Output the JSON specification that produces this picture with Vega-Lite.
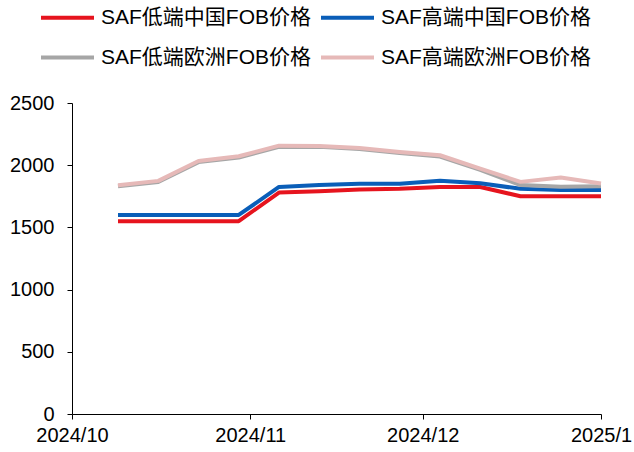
{
  "$schema": "https://vega.github.io/schema/vega-lite/v6.json",
  "width": 529,
  "height": 311,
  "autosize": {"type": "none"},
  "padding": {"left": 72, "top": 103, "right": 33, "bottom": 38},
  "background": "white",
  "config": {"view": {"stroke": null}, "font": "Liberation Sans"},
  "data": {
    "values": [
      {"date": "2024-10-09", "series": "SAF低端中国FOB价格", "value": 1550},
      {"date": "2024-10-16", "series": "SAF低端中国FOB价格", "value": 1550},
      {"date": "2024-10-23", "series": "SAF低端中国FOB价格", "value": 1550},
      {"date": "2024-10-30", "series": "SAF低端中国FOB价格", "value": 1550},
      {"date": "2024-11-06", "series": "SAF低端中国FOB价格", "value": 1780},
      {"date": "2024-11-13", "series": "SAF低端中国FOB价格", "value": 1790},
      {"date": "2024-11-20", "series": "SAF低端中国FOB价格", "value": 1805},
      {"date": "2024-11-27", "series": "SAF低端中国FOB价格", "value": 1810},
      {"date": "2024-12-04", "series": "SAF低端中国FOB价格", "value": 1825},
      {"date": "2024-12-11", "series": "SAF低端中国FOB价格", "value": 1825},
      {"date": "2024-12-18", "series": "SAF低端中国FOB价格", "value": 1750},
      {"date": "2024-12-25", "series": "SAF低端中国FOB价格", "value": 1750},
      {"date": "2025-01-01", "series": "SAF低端中国FOB价格", "value": 1750},
      {"date": "2024-10-09", "series": "SAF高端中国FOB价格", "value": 1600},
      {"date": "2024-10-16", "series": "SAF高端中国FOB价格", "value": 1600},
      {"date": "2024-10-23", "series": "SAF高端中国FOB价格", "value": 1600},
      {"date": "2024-10-30", "series": "SAF高端中国FOB价格", "value": 1600},
      {"date": "2024-11-06", "series": "SAF高端中国FOB价格", "value": 1825},
      {"date": "2024-11-13", "series": "SAF高端中国FOB价格", "value": 1840},
      {"date": "2024-11-20", "series": "SAF高端中国FOB价格", "value": 1850},
      {"date": "2024-11-27", "series": "SAF高端中国FOB价格", "value": 1850},
      {"date": "2024-12-04", "series": "SAF高端中国FOB价格", "value": 1875},
      {"date": "2024-12-11", "series": "SAF高端中国FOB价格", "value": 1855},
      {"date": "2024-12-18", "series": "SAF高端中国FOB价格", "value": 1810},
      {"date": "2024-12-25", "series": "SAF高端中国FOB价格", "value": 1800},
      {"date": "2025-01-01", "series": "SAF高端中国FOB价格", "value": 1800},
      {"date": "2024-10-09", "series": "SAF低端欧洲FOB价格", "value": 1830},
      {"date": "2024-10-16", "series": "SAF低端欧洲FOB价格", "value": 1865},
      {"date": "2024-10-23", "series": "SAF低端欧洲FOB价格", "value": 2025},
      {"date": "2024-10-30", "series": "SAF低端欧洲FOB价格", "value": 2062},
      {"date": "2024-11-06", "series": "SAF低端欧洲FOB价格", "value": 2147},
      {"date": "2024-11-13", "series": "SAF低端欧洲FOB价格", "value": 2148},
      {"date": "2024-11-20", "series": "SAF低端欧洲FOB价格", "value": 2130},
      {"date": "2024-11-27", "series": "SAF低端欧洲FOB价格", "value": 2097},
      {"date": "2024-12-04", "series": "SAF低端欧洲FOB价格", "value": 2070},
      {"date": "2024-12-11", "series": "SAF低端欧洲FOB价格", "value": 1963},
      {"date": "2024-12-18", "series": "SAF低端欧洲FOB价格", "value": 1840},
      {"date": "2024-12-25", "series": "SAF低端欧洲FOB价格", "value": 1826},
      {"date": "2025-01-01", "series": "SAF低端欧洲FOB价格", "value": 1830},
      {"date": "2024-10-09", "series": "SAF高端欧洲FOB价格", "value": 1839},
      {"date": "2024-10-16", "series": "SAF高端欧洲FOB价格", "value": 1874},
      {"date": "2024-10-23", "series": "SAF高端欧洲FOB价格", "value": 2034},
      {"date": "2024-10-30", "series": "SAF高端欧洲FOB价格", "value": 2072},
      {"date": "2024-11-06", "series": "SAF高端欧洲FOB价格", "value": 2157},
      {"date": "2024-11-13", "series": "SAF高端欧洲FOB价格", "value": 2155},
      {"date": "2024-11-20", "series": "SAF高端欧洲FOB价格", "value": 2139},
      {"date": "2024-11-27", "series": "SAF高端欧洲FOB价格", "value": 2107},
      {"date": "2024-12-04", "series": "SAF高端欧洲FOB价格", "value": 2080},
      {"date": "2024-12-11", "series": "SAF高端欧洲FOB价格", "value": 1973},
      {"date": "2024-12-18", "series": "SAF高端欧洲FOB价格", "value": 1866},
      {"date": "2024-12-25", "series": "SAF高端欧洲FOB价格", "value": 1901},
      {"date": "2025-01-01", "series": "SAF高端欧洲FOB价格", "value": 1853}
    ]
  },
  "mark": {"type": "line", "strokeWidth": 4, "strokeJoin": "round", "strokeCap": "butt"},
  "encoding": {
    "x": {
      "field": "date",
      "type": "temporal",
      "scale": {
        "type": "utc",
        "domain": [
          {"year": 2024, "month": 10, "date": 1, "utc": true},
          {"year": 2025, "month": 1, "date": 1, "utc": true}
        ]
      },
      "axis": {
        "title": null,
        "values": [
          {"year": 2024, "month": 10, "date": 1, "utc": true},
          {"year": 2024, "month": 11, "date": 1, "utc": true},
          {"year": 2024, "month": 12, "date": 1, "utc": true},
          {"year": 2025, "month": 1, "date": 1, "utc": true}
        ],
        "labelExpr": "utcFormat(datum.value, '%Y/%-m')",
        "labelFontSize": 20,
        "labelColor": "#000",
        "labelFlush": false,
        "labelPadding": 6,
        "tickSize": 5,
        "tickColor": "#000",
        "domainColor": "#000",
        "grid": false
      }
    },
    "y": {
      "field": "value",
      "type": "quantitative",
      "scale": {"domain": [0, 2500], "nice": false},
      "axis": {
        "title": null,
        "values": [0, 500, 1000, 1500, 2000, 2500],
        "format": "d",
        "labelFontSize": 20,
        "labelColor": "#000",
        "labelPadding": 13,
        "tickSize": 5,
        "tickColor": "#000",
        "domainColor": "#000",
        "grid": false
      }
    },
    "color": {
      "field": "series",
      "type": "nominal",
      "scale": {
        "domain": ["SAF低端中国FOB价格", "SAF高端中国FOB价格", "SAF低端欧洲FOB价格", "SAF高端欧洲FOB价格"],
        "range": ["#E6141E", "#0A5EB8", "#A6A6A6", "#E6B9B8"]
      },
      "legend": {
        "title": null,
        "orient": "none",
        "legendX": -33,
        "legendY": -114,
        "direction": "horizontal",
        "columns": 2,
        "symbolType": "stroke",
        "symbolSize": 2809,
        "symbolStrokeWidth": 4,
        "labelFontSize": 21,
        "labelFont": "Liberation Sans, Noto Sans CJK SC",
        "labelColor": "#000",
        "labelLimit": 400,
        "labelOffset": 5,
        "columnPadding": 1,
        "rowPadding": 1
      }
    }
  }
}
